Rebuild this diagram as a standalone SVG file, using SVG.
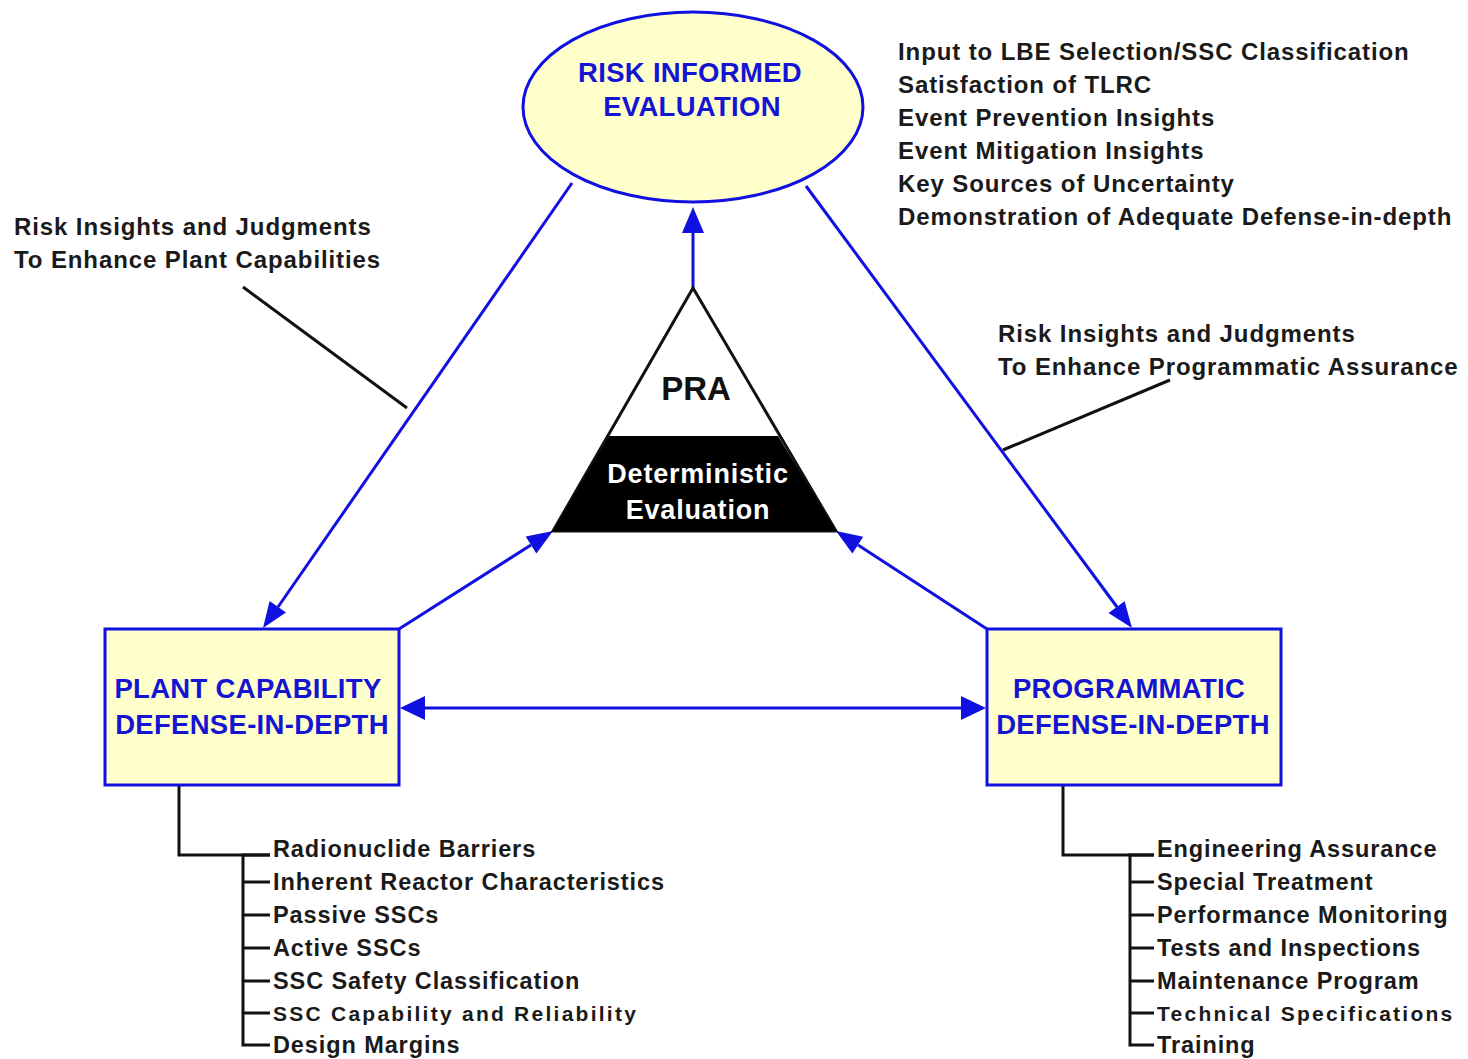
<svg xmlns="http://www.w3.org/2000/svg" width="1468" height="1059" viewBox="0 0 1468 1059">
<defs>
<style>
.blue{stroke:#1010e0;stroke-width:3;fill:none}
.ah{fill:#1010e0}
.node{fill:#ffffcc;stroke:#1010e0;stroke-width:3}
.ntext{font-family:"Liberation Sans",Arial,sans-serif;font-weight:bold;font-size:27.5px;fill:#1414d2;text-anchor:middle;letter-spacing:0.3px}
.lbl{font-family:"Liberation Sans",Arial,sans-serif;font-weight:bold;font-size:24px;fill:#1a1a1a;letter-spacing:0.9px}
.item{font-family:"Liberation Sans",Arial,sans-serif;font-weight:bold;font-size:23.5px;fill:#1a1a1a;letter-spacing:0.9px}
.narrow{font-size:21px;letter-spacing:2.25px}
.blk{stroke:#111;stroke-width:3;fill:none}
</style>
</defs>
<rect width="1468" height="1059" fill="#ffffff"/>

<g id="connectors">
<line class="blue" x1="572" y1="183" x2="278" y2="607"/>
<polygon class="ah" points="263,628 286,612.4 269.6,601"/>
<line class="blue" x1="806" y1="186" x2="1117" y2="607"/>
<polygon class="ah" points="1132,628 1108.5,613 1124.6,601.2"/>
<line class="blue" x1="693" y1="288" x2="693" y2="228"/>
<polygon class="ah" points="693,207 682,233 704,233"/>
<line class="blue" x1="399" y1="629" x2="531" y2="545"/>
<polygon class="ah" points="553,531 536.4,553.4 525.7,536.6"/>
<line class="blue" x1="987" y1="629" x2="858" y2="545"/>
<polygon class="ah" points="836,531 863.2,536.8 852.4,553.6"/>
<line class="blue" x1="420" y1="708" x2="966" y2="708"/>
<polygon class="ah" points="400,708 425,696 425,720"/>
<polygon class="ah" points="986,708 961,696 961,720"/>
<line class="blk" x1="243" y1="287" x2="407" y2="408" stroke-width="2.5"/>
<line class="blk" x1="1170" y1="380" x2="1003" y2="450" stroke-width="2.5"/>
<polyline class="blk" points="179,785 179,855 270,855"/>
<polyline class="blk" points="270,855 243,855 243,1045 270,1045"/>
<line class="blk" x1="243" y1="882" x2="270" y2="882"/>
<line class="blk" x1="243" y1="915" x2="270" y2="915"/>
<line class="blk" x1="243" y1="948" x2="270" y2="948"/>
<line class="blk" x1="243" y1="981" x2="270" y2="981"/>
<line class="blk" x1="243" y1="1013" x2="270" y2="1013"/>
<polyline class="blk" points="1063,785 1063,855 1154,855"/>
<polyline class="blk" points="1154,855 1130,855 1130,1045 1154,1045"/>
<line class="blk" x1="1130" y1="882" x2="1154" y2="882"/>
<line class="blk" x1="1130" y1="915" x2="1154" y2="915"/>
<line class="blk" x1="1130" y1="948" x2="1154" y2="948"/>
<line class="blk" x1="1130" y1="981" x2="1154" y2="981"/>
<line class="blk" x1="1130" y1="1013" x2="1154" y2="1013"/>
</g>

<g id="risk-informed">
<ellipse class="node" cx="693" cy="107" rx="170" ry="95"/>
<text class="ntext" x="690" y="82">RISK INFORMED</text>
<text class="ntext" x="692" y="116">EVALUATION</text>
</g>

<g id="pra-triangle">
<polygon points="693,288 553,531 836,531" fill="#ffffff" stroke="#111" stroke-width="3"/>
<polygon points="609,436 778,436 836,531 553,531" fill="#000"/>
<text x="696" y="400" font-family="Liberation Sans,Arial,sans-serif" font-weight="bold" font-size="33" fill="#111" text-anchor="middle">PRA</text>
<text x="698" y="483" font-family="Liberation Sans,Arial,sans-serif" font-weight="bold" font-size="27" letter-spacing="0.8" fill="#ffffff" text-anchor="middle">Deterministic</text>
<text x="698" y="519" font-family="Liberation Sans,Arial,sans-serif" font-weight="bold" font-size="27" letter-spacing="0.8" fill="#ffffff" text-anchor="middle">Evaluation</text>
</g>

<g id="plant-capability">
<rect class="node" x="105" y="629" width="294" height="156"/>
<text class="ntext" x="248" y="698">PLANT CAPABILITY</text>
<text class="ntext" x="252" y="734">DEFENSE-IN-DEPTH</text>
</g>

<g id="programmatic">
<rect class="node" x="987" y="629" width="294" height="156"/>
<text class="ntext" x="1129" y="698">PROGRAMMATIC</text>
<text class="ntext" x="1133" y="734">DEFENSE-IN-DEPTH</text>
</g>

<g id="label-plant-insights">
<text class="lbl" x="14" y="235">Risk Insights and Judgments</text>
<text class="lbl" x="14" y="268">To Enhance Plant Capabilities</text>
</g>

<g id="label-prog-insights">
<text class="lbl" x="998" y="342">Risk Insights and Judgments</text>
<text class="lbl" x="998" y="375">To Enhance Programmatic Assurance</text>
</g>

<g id="risk-outputs">
<text class="lbl" x="898" y="60">Input to LBE Selection/SSC Classification</text>
<text class="lbl" x="898" y="93">Satisfaction of TLRC</text>
<text class="lbl" x="898" y="126">Event Prevention Insights</text>
<text class="lbl" x="898" y="159">Event Mitigation Insights</text>
<text class="lbl" x="898" y="192">Key Sources of Uncertainty</text>
<text class="lbl" x="898" y="225">Demonstration of Adequate Defense-in-depth</text>
</g>

<g id="plant-items">
<text class="item" x="273" y="857">Radionuclide Barriers</text>
<text class="item" x="273" y="890">Inherent Reactor Characteristics</text>
<text class="item" x="273" y="923">Passive SSCs</text>
<text class="item" x="273" y="956">Active SSCs</text>
<text class="item" x="273" y="989">SSC Safety Classification</text>
<text class="item narrow" x="273" y="1021">SSC Capability and Reliability</text>
<text class="item" x="273" y="1053">Design Margins</text>
</g>

<g id="prog-items">
<text class="item" x="1157" y="857">Engineering Assurance</text>
<text class="item" x="1157" y="890">Special Treatment</text>
<text class="item" x="1157" y="923">Performance Monitoring</text>
<text class="item" x="1157" y="956">Tests and Inspections</text>
<text class="item" x="1157" y="989">Maintenance Program</text>
<text class="item narrow" x="1157" y="1021">Technical Specifications</text>
<text class="item" x="1157" y="1053">Training</text>
</g>
</svg>
